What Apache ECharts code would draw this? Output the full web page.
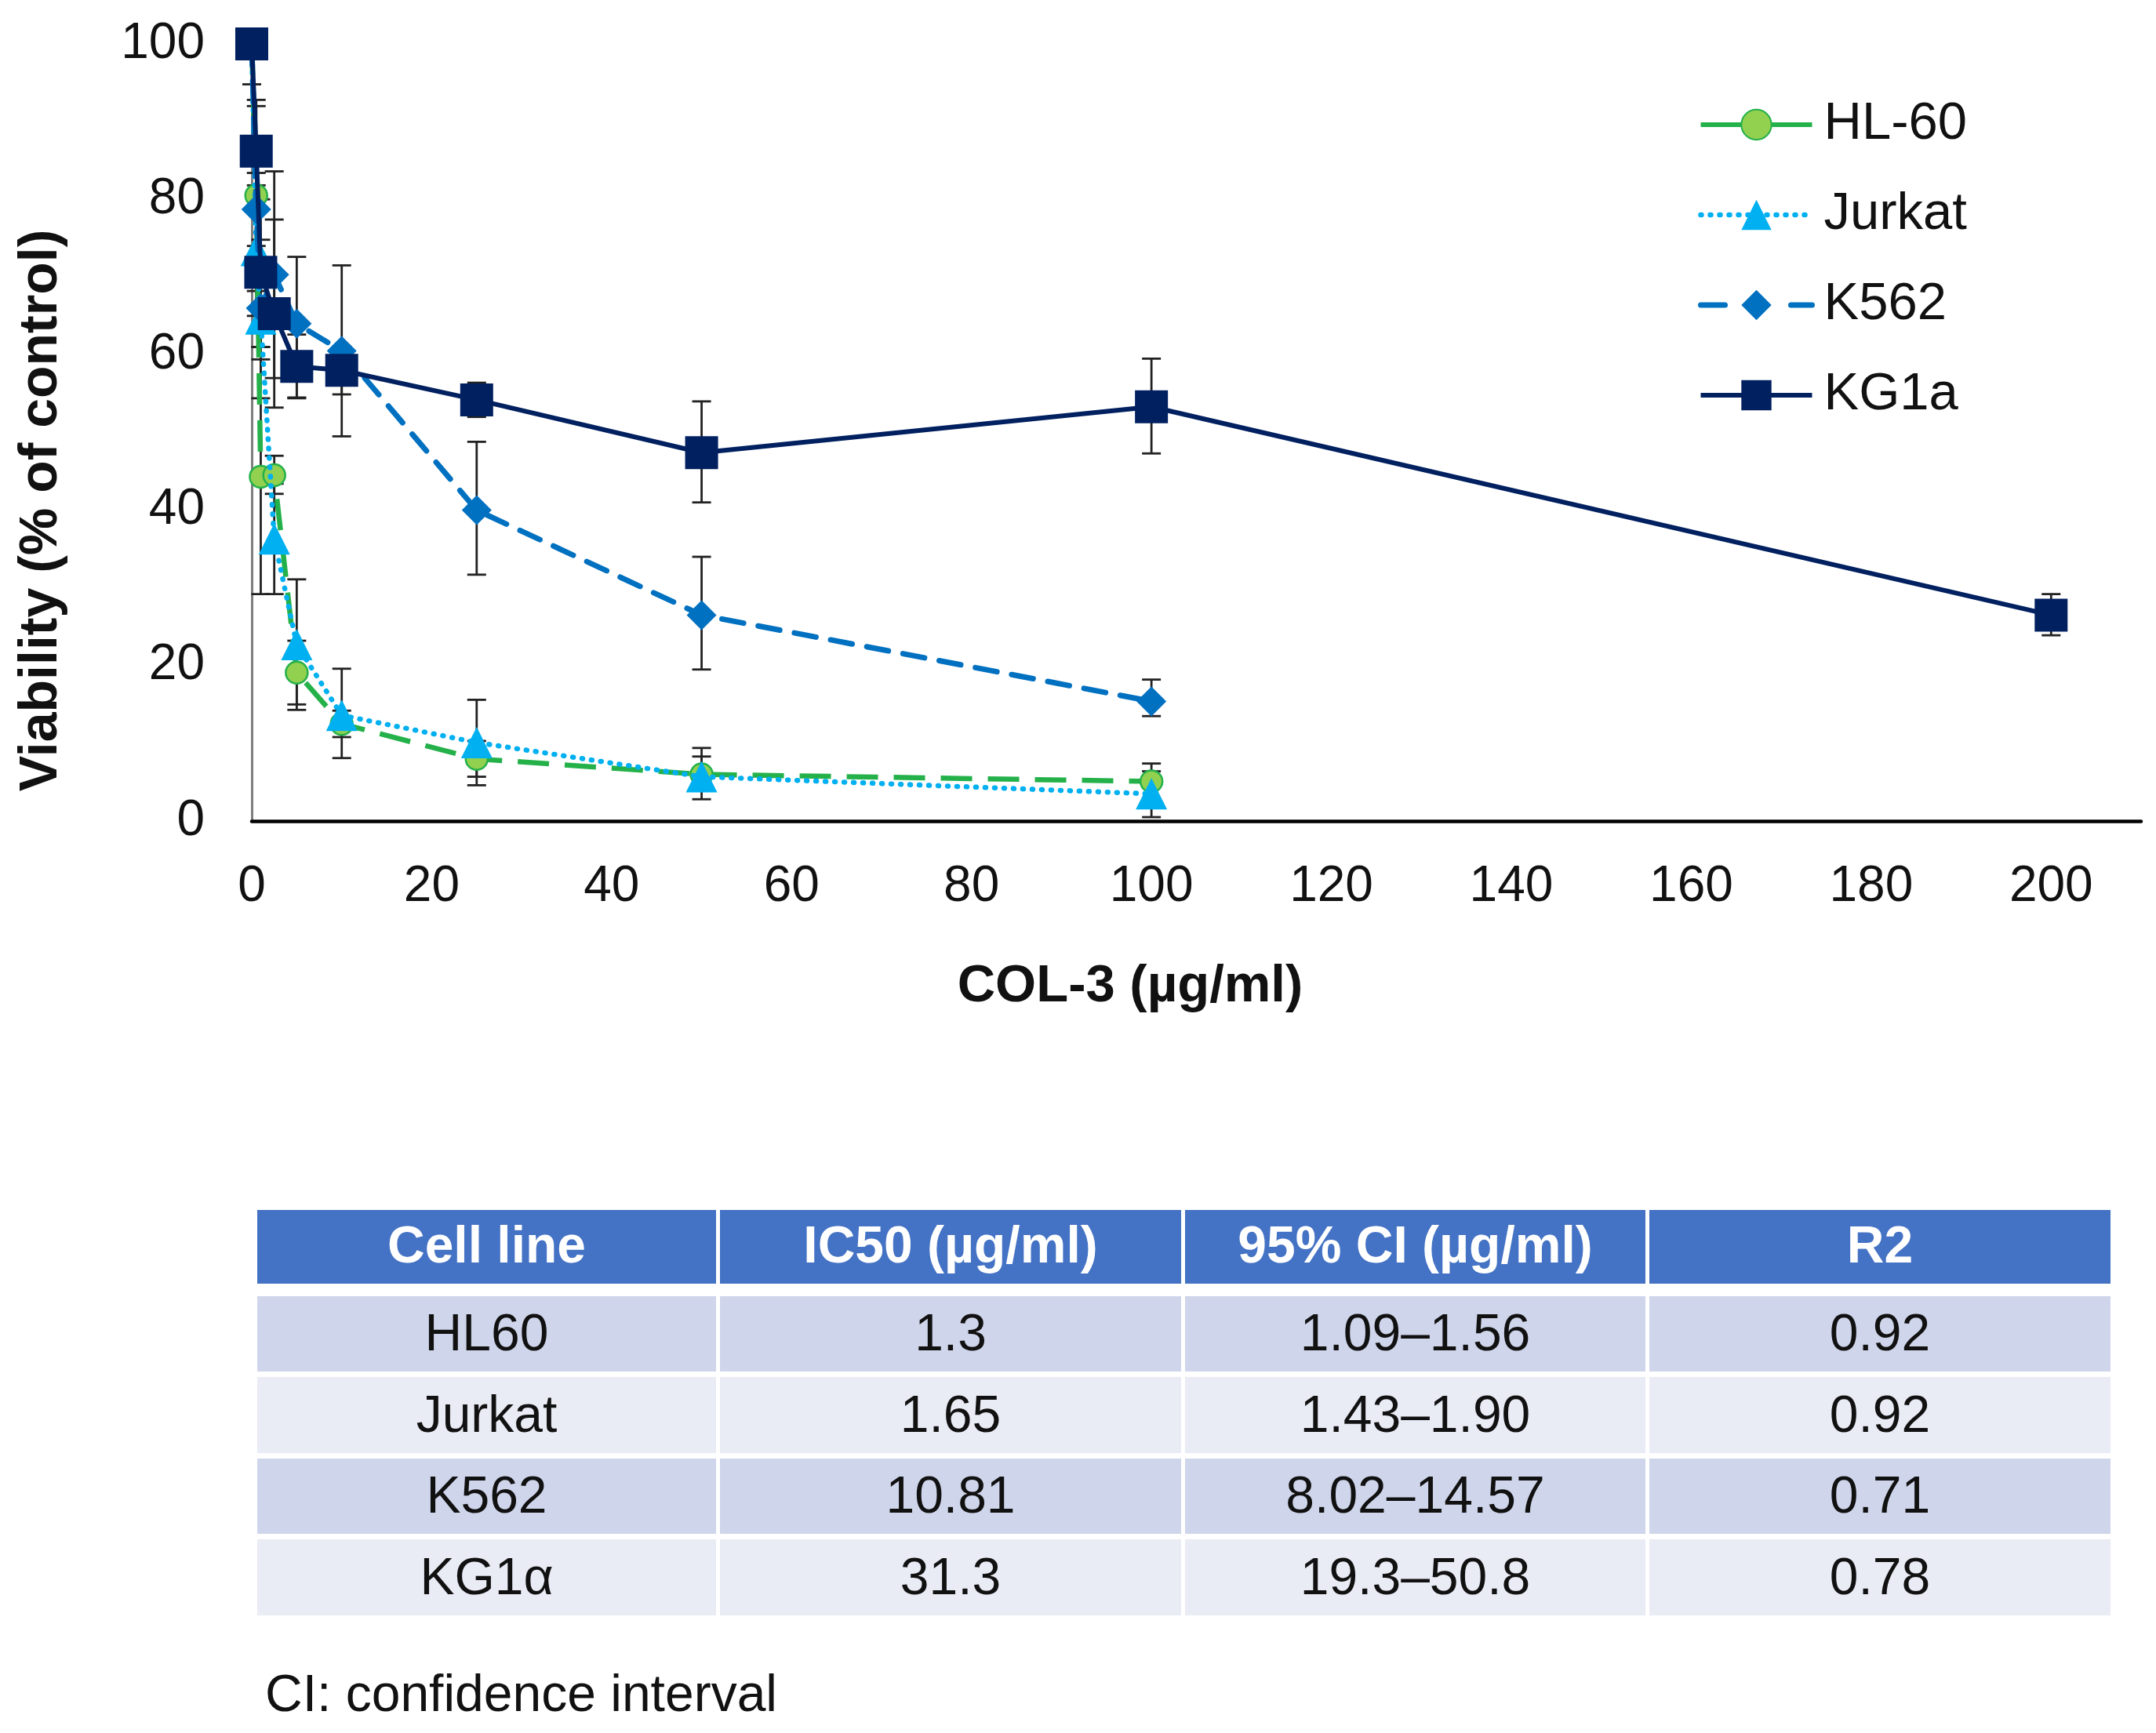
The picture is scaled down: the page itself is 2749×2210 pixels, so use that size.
<!DOCTYPE html>
<html><head><meta charset="utf-8">
<script src="https://cdn.jsdelivr.net/npm/echarts@6/dist/echarts.min.js"></script>
<style>html,body{margin:0;padding:0;background:#fff}#c{width:2749px;height:2210px}</style>
</head><body><div id="c"></div>
<script>
// ---------- data ----------
const doses = [0, 0.5, 1, 2.5, 5, 10, 25, 50, 100];
const dosesKG1a = [0, 0.5, 1, 2.5, 5, 10, 25, 50, 100, 200];

const hl60 = [100, 80.5, 44.3, 44.5, 19.1, 12.5, 8.0, 6.0, 5.1];
const hl60Low = [100, 68.2, 29.2, 42.1, 15.0, 10.8, 5.7, 3.9, 2.8];
const hl60High = [100, 92.8, 59.4, 47.0, 23.2, 14.2, 10.3, 8.3, 7.4];

const jurkat = [100, 73.4, 64.6, 36.3, 22.7, 13.6, 10.1, 5.7, 3.5];
const jurkatLow = [100, 65.0, 54.4, 29.2, 14.3, 8.1, 4.6, 2.8, 0.5];
const jurkatHigh = [100, 81.8, 74.8, 43.4, 31.1, 19.6, 15.6, 9.4, 6.4];

const k562 = [100, 78.7, 66.0, 70.3, 64.0, 60.5, 40.0, 26.5, 15.4];
const k562Low = [100, 74.0, 61.0, 57.0, 54.5, 49.5, 31.7, 19.5, 13.5];
const k562High = [100, 83.4, 71.0, 83.6, 72.6, 71.5, 48.8, 34.0, 18.2];

const kg1a = [100, 86.2, 70.6, 65.3, 58.5, 58.0, 54.2, 47.4, 53.3, 26.5];
const kg1aLow = [94.8, 80.0, 61.0, 53.2, 54.4, 54.9, 52.0, 41.0, 47.3, 23.9];
const kg1aHigh = [100, 92.0, 80.0, 77.4, 62.6, 61.1, 56.4, 54.0, 59.5, 29.2];

const xTicks = [0, 20, 40, 60, 80, 100, 120, 140, 160, 180, 200];
const yTicks = [0, 20, 40, 60, 80, 100];

const tableHeader = ['Cell line', 'IC50 (µg/ml)', '95% CI (µg/ml)', 'R2'];
const cellLines = ['HL60', 'Jurkat', 'K562', 'KG1α'];
const ic50 = ['1.3', '1.65', '10.81', '31.3'];
const ci95 = ['1.09–1.56', '1.43–1.90', '8.02–14.57', '19.3–50.8'];
const r2 = ['0.92', '0.92', '0.71', '0.78'];
const footnote = 'CI: confidence interval';

// ---------- chart ----------
const FONT = '"Liberation Sans", Arial, sans-serif';
const chart = echarts.init(document.getElementById('c'), null, {renderer: 'canvas'});

const pairs = (xs, ys) => xs.map((x, i) => [x, ys[i]]);

function errSeries(name, xs, lo, hi, z) {
  return {
    type: 'custom', name: name + '-err', z: z, silent: true, clip: false,
    data: xs.map((x, i) => [x, lo[i], hi[i]]),
    encode: {x: 0, y: [1, 2]},
    renderItem: function (params, api) {
      const x = api.value(0);
      const p1 = api.coord([x, api.value(1)]);
      const p2 = api.coord([x, api.value(2)]);
      const hw = 12;
      const st = {stroke: '#222', lineWidth: 2.8};
      return {type: 'group', children: [
        {type: 'line', shape: {x1: p1[0], y1: p1[1], x2: p2[0], y2: p2[1]}, style: st},
        {type: 'line', shape: {x1: p1[0] - hw, y1: p1[1], x2: p1[0] + hw, y2: p1[1]}, style: st},
        {type: 'line', shape: {x1: p2[0] - hw, y1: p2[1], x2: p2[0] + hw, y2: p2[1]}, style: st}
      ]};
    }
  };
}

// table graphics
const colEdges = [328, 915, 1508, 2100, 2691];
const headerBox = [1543, 1637];
const rowBoxes = [[1653, 1749], [1756, 1853], [1860, 1956], [1963, 2060]];
const rowFills = ['#CFD5EA', '#E9EBF5', '#CFD5EA', '#E9EBF5'];
const columns = [cellLines, ic50, ci95, r2];
const graphics = [];
for (let c = 0; c < 4; c++) {
  const x0 = colEdges[c] + (c === 0 ? 0 : 3);
  const x1 = colEdges[c + 1] - (c === 3 ? 0 : 2);
  graphics.push({type: 'rect', shape: {x: x0, y: headerBox[0], width: x1 - x0, height: headerBox[1] - headerBox[0]},
    style: {fill: '#4472C4'}});
  graphics.push({type: 'text', x: (x0 + x1) / 2, y: (headerBox[0] + headerBox[1]) / 2 + 2,
    style: {text: tableHeader[c], fill: '#fff', font: 'bold 66px ' + FONT, align: 'center', verticalAlign: 'middle'}});
  for (let r = 0; r < 4; r++) {
    graphics.push({type: 'rect', shape: {x: x0, y: rowBoxes[r][0], width: x1 - x0, height: rowBoxes[r][1] - rowBoxes[r][0]},
      style: {fill: rowFills[r]}});
    graphics.push({type: 'text', x: (x0 + x1) / 2, y: (rowBoxes[r][0] + rowBoxes[r][1]) / 2 + 3,
      style: {text: columns[c][r], fill: '#111', font: '66px ' + FONT, align: 'center', verticalAlign: 'middle'}});
  }
}
graphics.push({type: 'text', x: 338, y: 2164,
  style: {text: footnote, fill: '#111', font: '66px ' + FONT, align: 'left', verticalAlign: 'middle'}});
// axis titles
graphics.push({type: 'text', x: 53, y: 651, rotation: Math.PI / 2,
  style: {text: 'Viability (% of control)', fill: '#111', font: 'bold 68px ' + FONT, align: 'center', verticalAlign: 'middle'}});
graphics.push({type: 'text', x: 1441, y: 1259,
  style: {text: 'COL-3 (µg/ml)', fill: '#111', font: 'bold 67px ' + FONT, align: 'center', verticalAlign: 'middle'}});

const option = {
  backgroundColor: '#fff',
  animation: false,
  grid: {left: 321, right: 19, top: 56, bottom: 1163, containLabel: false},
  xAxis: {
    type: 'value', min: 0, max: 210, interval: 20,
    axisLine: {show: true, onZero: false, lineStyle: {color: '#000', width: 4.5}},
    axisTick: {show: false}, splitLine: {show: false},
    axisLabel: {margin: 52, fontSize: 64, color: '#111', fontFamily: FONT, showMaxLabel: false,
      formatter: v => (xTicks.indexOf(v) >= 0 ? String(v) : '')}
  },
  yAxis: {
    type: 'value', min: 0, max: 100, interval: 20,
    axisLine: {show: true, lineStyle: {color: '#7f7f7f', width: 3}},
    axisTick: {show: false}, splitLine: {show: false},
    axisLabel: {margin: 60, fontSize: 64, color: '#111', fontFamily: FONT,
      formatter: v => (yTicks.indexOf(v) >= 0 ? String(v) : '')}
  },
  legend: {
    orient: 'vertical', left: 2160, top: 119, itemWidth: 142, itemHeight: 48, itemGap: 45,
    textStyle: {fontSize: 67, lineHeight: 70, color: '#111', fontFamily: FONT, padding: [0, 0, 0, 10]},
    data: [
      {name: 'HL-60', lineStyle: {type: 'solid', width: 6, color: '#24B14A'}},
      {name: 'Jurkat', lineStyle: {type: [1, 11], width: 6.5, cap: 'round', color: '#00B0F0'}},
      {name: 'K562', lineStyle: {type: [31, 84], width: 7, cap: 'round', color: '#0070C0'}},
      {name: 'KG1a', lineStyle: {type: 'solid', width: 6, color: '#002060'}}
    ]
  },
  graphic: graphics,
  series: [
    errSeries('HL-60', doses, hl60Low, hl60High, 1),
    errSeries('Jurkat', doses, jurkatLow, jurkatHigh, 1),
    errSeries('K562', doses, k562Low, k562High, 1),
    errSeries('KG1a', dosesKG1a, kg1aLow, kg1aHigh, 1),
    {
      name: 'HL-60', type: 'line', z: 2, clip: false, data: pairs(doses, hl60),
      symbol: 'circle', symbolSize: 28,
      lineStyle: {color: '#24B14A', width: 6.5, type: [40, 20]},
      itemStyle: {color: '#92D050', borderColor: '#24B14A', borderWidth: 2.5}
    },
    {
      name: 'Jurkat', type: 'line', z: 3, clip: false, data: pairs(doses, jurkat),
      symbol: 'triangle', symbolSize: 40,
      lineStyle: {color: '#00B0F0', width: 6.5, type: [1, 11], cap: 'round'},
      itemStyle: {color: '#00B0F0'}
    },
    {
      name: 'K562', type: 'line', z: 4, clip: false, data: pairs(doses, k562),
      symbol: 'diamond', symbolSize: 38,
      lineStyle: {color: '#0070C0', width: 7, type: [28, 19], cap: 'round'},
      itemStyle: {color: '#0070C0'}
    },
    {
      name: 'KG1a', type: 'line', z: 5, clip: false, data: pairs(dosesKG1a, kg1a),
      symbol: 'rect', symbolSize: 42,
      lineStyle: {color: '#002060', width: 6, type: 'solid'},
      itemStyle: {color: '#002060'}
    }
  ]
};
chart.setOption(option);
</script>
</body></html>
